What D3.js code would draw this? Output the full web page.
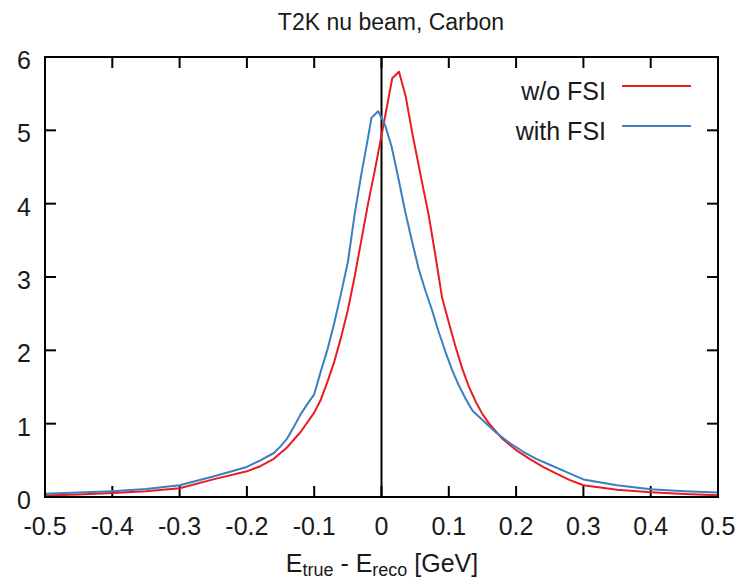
<!DOCTYPE html>
<html lang="en">
<head>
    <meta charset="UTF-8">
    <title>T2K nu beam, Carbon</title>
    <script src="https://d3js.org/d3.v7.min.js"></script>
    <style>
        body {
            margin: 0;
            background-color: #ffffff;
        }
        svg text {
            font-family: "Liberation Sans", Arial, sans-serif;
            fill: #1a1a1a;
        }
        .frame {
            fill: none;
            stroke: #000;
            stroke-width: 2;
        }
        .tick-mark {
            stroke: #000;
            stroke-width: 2;
        }
        .curve {
            fill: none;
            stroke-width: 2;
            stroke-linejoin: round;
        }
    </style>
</head>
<body>
    <svg id="chart" width="745" height="583"></svg>

    <script>
        // E_true - E_reco [GeV]
        const xNoFsi = [-0.50, -0.45, -0.40, -0.35, -0.30, -0.25, -0.20, -0.18, -0.16, -0.14, -0.12,
            -0.10, -0.09, -0.08, -0.07, -0.06, -0.05, -0.04, -0.03, -0.02, -0.01, 0.0, 0.016, 0.026,
            0.036, 0.046, 0.06, 0.07, 0.08, 0.09, 0.10, 0.11, 0.12, 0.13, 0.14, 0.15, 0.16, 0.18,
            0.20, 0.22, 0.24, 0.26, 0.28, 0.30, 0.35, 0.40, 0.45, 0.50];
        const yNoFsi = [0.02, 0.035, 0.055, 0.08, 0.12, 0.24, 0.35, 0.42, 0.52, 0.68, 0.89,
            1.15, 1.33, 1.58, 1.85, 2.18, 2.55, 3.0, 3.5, 4.0, 4.45, 4.93, 5.71, 5.80,
            5.46, 4.95, 4.3, 3.85, 3.3, 2.72, 2.38, 2.05, 1.75, 1.5, 1.3, 1.13, 1.0, 0.79,
            0.64, 0.52, 0.41, 0.32, 0.23, 0.16, 0.10, 0.065, 0.04, 0.025];

        const xFsi = [-0.50, -0.45, -0.40, -0.35, -0.30, -0.25, -0.20, -0.18, -0.16, -0.15, -0.14,
            -0.13, -0.12, -0.11, -0.10, -0.09, -0.08, -0.07, -0.06, -0.05, -0.04, -0.03, -0.02,
            -0.015, -0.005, 0.005, 0.015, 0.025, 0.035, 0.045, 0.055, 0.065, 0.075, 0.085, 0.095,
            0.105, 0.115, 0.125, 0.135, 0.15, 0.17, 0.19, 0.21, 0.23, 0.25, 0.27, 0.30, 0.35,
            0.40, 0.45, 0.50];
        const yFsi = [0.045, 0.06, 0.08, 0.11, 0.16, 0.28, 0.41, 0.50, 0.60, 0.69, 0.80,
            0.96, 1.13, 1.27, 1.40, 1.72, 2.02, 2.38, 2.78, 3.2, 3.85, 4.4, 4.9,
            5.17, 5.26, 5.08, 4.78, 4.35, 3.9, 3.5, 3.12, 2.82, 2.55, 2.25, 1.98,
            1.73, 1.52, 1.34, 1.18, 1.05, 0.88, 0.74, 0.62, 0.52, 0.44, 0.36, 0.24, 0.16,
            0.105, 0.08, 0.06];

        const xTicks = [-0.5, -0.4, -0.3, -0.2, -0.1, 0, 0.1, 0.2, 0.3, 0.4, 0.5];
        const xTickLabels = ["-0.5", "-0.4", "-0.3", "-0.2", "-0.1", "0", "0.1", "0.2", "0.3", "0.4", "0.5"];
        const yTicks = [0, 1, 2, 3, 4, 5, 6];

        const seriesNames = ["w/o FSI", "with FSI"];
        const seriesColors = ["#ea1b23", "#3b7fc0"];

        const margin = {top: 57, right: 27, bottom: 86, left: 45};
        const width = 745, height = 583;

        const svg = d3.select("#chart");

        const x = d3.scaleLinear().domain([-0.5, 0.5]).range([margin.left, width - margin.right]);
        const y = d3.scaleLinear().domain([0, 6]).range([height - margin.bottom, margin.top]);

        const tickLen = 11;
        const labelSize = 25;

        // inward ticks on all four sides (gnuplot mirror style)
        const ticks = svg.append("g");
        xTicks.forEach((t, i) => {
            ticks.append("line").attr("class", "tick-mark")
                .attr("x1", x(t)).attr("x2", x(t))
                .attr("y1", y(0)).attr("y2", y(0) - tickLen);
            ticks.append("line").attr("class", "tick-mark")
                .attr("x1", x(t)).attr("x2", x(t))
                .attr("y1", y(6)).attr("y2", y(6) + tickLen);
            svg.append("text")
                .attr("x", x(t)).attr("y", y(0) + 38)
                .attr("text-anchor", "middle")
                .attr("font-size", labelSize)
                .text(xTickLabels[i]);
        });
        yTicks.forEach(t => {
            ticks.append("line").attr("class", "tick-mark")
                .attr("x1", x(-0.5)).attr("x2", x(-0.5) + tickLen)
                .attr("y1", y(t)).attr("y2", y(t));
            ticks.append("line").attr("class", "tick-mark")
                .attr("x1", x(0.5)).attr("x2", x(0.5) - tickLen)
                .attr("y1", y(t)).attr("y2", y(t));
            svg.append("text")
                .attr("x", 31).attr("y", y(t) + 12)
                .attr("text-anchor", "end")
                .attr("font-size", labelSize)
                .text(t);
        });

        // vertical line at zero
        svg.append("line")
            .attr("x1", x(0)).attr("x2", x(0))
            .attr("y1", y(0)).attr("y2", y(6))
            .attr("stroke", "#000").attr("stroke-width", 2);

        const line = d3.line()
            .x(d => x(d[0]))
            .y(d => y(d[1]));

        const series = [d3.zip(xNoFsi, yNoFsi), d3.zip(xFsi, yFsi)];

        svg.append("path")
            .datum(series[0])
            .attr("class", "curve")
            .attr("stroke", seriesColors[0])
            .attr("d", line);

        svg.append("path")
            .datum(series[1])
            .attr("class", "curve")
            .attr("stroke", seriesColors[1])
            .attr("d", line);

        // frame
        svg.append("rect").attr("class", "frame")
            .attr("x", x(-0.5)).attr("y", y(6))
            .attr("width", x(0.5) - x(-0.5))
            .attr("height", y(0) - y(6));

        // legend
        seriesNames.forEach((name, i) => {
            const ly = 86 + i * 40;
            svg.append("text")
                .attr("x", 606).attr("y", ly + 14)
                .attr("text-anchor", "end")
                .attr("font-size", labelSize)
                .text(name);
            svg.append("line")
                .attr("x1", 622).attr("x2", 691)
                .attr("y1", ly).attr("y2", ly)
                .attr("stroke", seriesColors[i])
                .attr("stroke-width", 2);
        });

        // title
        svg.append("text")
            .attr("x", 391).attr("y", 30)
            .attr("text-anchor", "middle")
            .attr("font-size", 23)
            .text("T2K nu beam, Carbon");

        // x axis title with subscripts
        const xt = svg.append("text")
            .attr("x", 382).attr("y", 572)
            .attr("text-anchor", "middle")
            .attr("font-size", labelSize);
        xt.append("tspan").text("E");
        xt.append("tspan").attr("font-size", 18).attr("dy", 4).text("true");
        xt.append("tspan").attr("dy", -4).text(" - E");
        xt.append("tspan").attr("font-size", 18).attr("dy", 4).text("reco");
        xt.append("tspan").attr("dy", -4).text(" [GeV]");
    </script>
</body>
</html>
